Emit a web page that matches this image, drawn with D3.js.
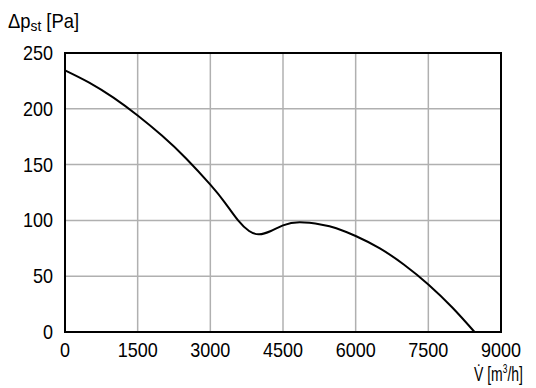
<!DOCTYPE html>
<html>
<head>
<meta charset="utf-8">
<script src="https://cdn.jsdelivr.net/npm/d3@7"></script>
<style>
    body { margin: 0; background: #fff; }
    text { font-family: "Liberation Sans", Arial, sans-serif; }
</style>
</head>
<body>
<svg id="drawing_region"></svg>
<script>
// flow rate [m3/h] and static pressure [Pa]
const flow     = [0, 500, 1000, 1500, 2000, 2500, 3000, 3300, 3573, 3800, 4006, 4250, 4500, 4845, 5300, 5600, 6000, 6500, 7000, 7500, 8000, 8454];
const pressure = [234.5, 223.5, 210, 194, 176, 155.5, 132, 116, 100, 90.5, 87.5, 90.5, 95.5, 98.3, 96.2, 93, 86, 74.9, 60.3, 42.6, 21.7, 0];

const xticks = [0, 1500, 3000, 4500, 6000, 7500, 9000];
const yticks = [0, 50, 100, 150, 200, 250];

class FanCurve {

    constructor( config, data ) {
        this.config = {
            parent: config.parent,
            width: config.width || 536,
            height: config.height || 388,
            margin: config.margin || {top:53, right:35, bottom:56, left:65}
        }
        this.data = data;
        this.init();
    }

    init() {
        let self = this;

        self.svg = d3.select( self.config.parent )
            .attr('width', self.config.width)
            .attr('height', self.config.height);

        self.chart = self.svg.append('g')
            .attr('transform', `translate(${self.config.margin.left}, ${self.config.margin.top})`);

        self.inner_width = self.config.width - self.config.margin.left - self.config.margin.right;
        self.inner_height = self.config.height - self.config.margin.top - self.config.margin.bottom;

        self.xscale = d3.scaleLinear()
            .domain( [0, 9000] )
            .range( [0, self.inner_width] );

        self.yscale = d3.scaleLinear()
            .domain( [0, 250] )
            .range( [self.inner_height, 0] );
    }

    render() {
        let self = this;

        // grid
        self.chart.append('g')
            .selectAll('line')
            .data(xticks.slice(1, -1))
            .join('line')
            .attr('x1', d => self.xscale(d))
            .attr('x2', d => self.xscale(d))
            .attr('y1', 0)
            .attr('y2', self.inner_height)
            .attr('stroke', '#b0b0b0')
            .attr('stroke-width', 1.5);

        self.chart.append('g')
            .selectAll('line')
            .data(yticks.slice(1, -1))
            .join('line')
            .attr('x1', 0)
            .attr('x2', self.inner_width)
            .attr('y1', d => self.yscale(d))
            .attr('y2', d => self.yscale(d))
            .attr('stroke', '#b0b0b0')
            .attr('stroke-width', 1.5);

        // curve
        const line = d3.line()
            .x( d => self.xscale(d.x) )
            .y( d => self.yscale(d.y) )
            .curve( d3.curveNatural );

        self.chart.append('path')
            .datum(self.data)
            .attr('d', line)
            .attr('fill', 'none')
            .attr('stroke', '#000')
            .attr('stroke-width', 2);

        // frame
        self.chart.append('rect')
            .attr('x', 0)
            .attr('y', 0)
            .attr('width', self.inner_width)
            .attr('height', self.inner_height)
            .attr('fill', 'none')
            .attr('stroke', '#000')
            .attr('stroke-width', 2);

        // tick labels (squeezed a bit, the original uses a condensed face)
        self.chart.append('g')
            .selectAll('text')
            .data(yticks)
            .join('text')
            .attr('transform', d => `translate(-12, ${self.yscale(d)}) scale(0.9, 1)`)
            .attr('dy', '0.35em')
            .attr('text-anchor', 'end')
            .attr('font-size', '20px')
            .text(d => d);

        self.chart.append('g')
            .selectAll('text')
            .data(xticks)
            .join('text')
            .attr('transform', d => `translate(${self.xscale(d)}, ${self.inner_height + 25}) scale(0.9, 1)`)
            .attr('text-anchor', 'middle')
            .attr('font-size', '20px')
            .text(d => d);

        // axis titles
        const ytitle = self.svg.append('text')
            .attr('transform', 'translate(8, 28) scale(0.92, 1)')
            .attr('font-size', '20px');
        ytitle.append('tspan').text('\u0394p');
        ytitle.append('tspan').attr('font-size', '15px').attr('dy', 3).text('st');
        ytitle.append('tspan').attr('dy', -3).text(' [Pa]');

        const xtitle = self.svg.append('text')
            .attr('transform', 'translate(523, 381) scale(0.7, 1)')
            .attr('text-anchor', 'end')
            .attr('font-size', '20px');
        xtitle.append('tspan').text('V\u0307 [m');
        xtitle.append('tspan').attr('font-size', '12px').attr('dy', -8).text('3');
        xtitle.append('tspan').attr('dy', 8).text('/h]');
    }
}

const data = flow.map( (x, i) => ({x: x, y: pressure[i]}) );
const fan_curve = new FanCurve( {parent: '#drawing_region'}, data );
fan_curve.render();
</script>
</body>
</html>
